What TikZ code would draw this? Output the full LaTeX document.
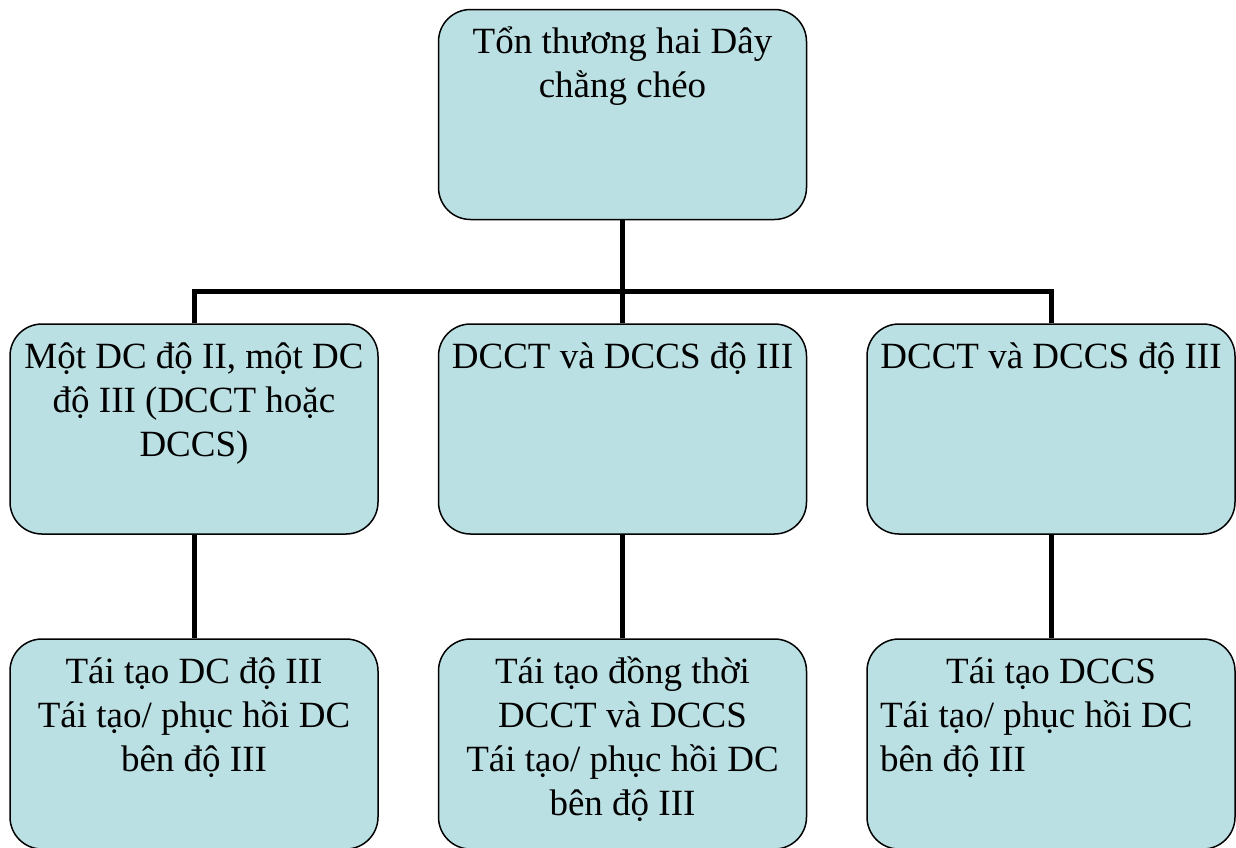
\documentclass[tikz,border=0pt]{standalone}
\usepackage{fontspec}
\setmainfont{Liberation Serif}
\definecolor{boxfill}{HTML}{BBE0E3}
\tikzset{
  box/.style={draw=black, line width=1.5pt, fill=boxfill, rounded corners=32pt,
    inner xsep=4pt, inner ysep=0pt, minimum width=368pt, minimum height=210pt},
  conn/.style={draw=black, line width=5pt}
}
\newcommand{\boxtext}[1]{\parbox[c][210pt][t]{360pt}{\fontsize{37}{44}\selectfont\centering\rule{0pt}{44pt}#1}}
\begin{document}
\begin{tikzpicture}[x=1pt,y=-1pt]
\useasboundingbox (0,0) rectangle (1236,847);
\clip (0,0) rectangle (1236,847);
\node[box] (t) at (622.5,114.5) {\boxtext{Tổn thương hai Dây\\chằng chéo}};
\node[box] (m1) at (194,429) {\boxtext{Một DC độ II, một DC\\độ III (DCCT hoặc\\DCCS)}};
\node[box] (m2) at (622.5,429) {\boxtext{DCCT và DCCS độ III}};
\node[box] (m3) at (1051,429) {\boxtext{DCCT và DCCS độ III}};
\node[box] (b1) at (194,744) {\boxtext{Tái tạo DC độ III\\Tái tạo/ phục hồi DC\\bên độ III}};
\node[box] (b2) at (622.5,744) {\boxtext{Tái tạo đồng thời\\DCCT và DCCS\\Tái tạo/ phục hồi DC\\bên độ III}};
\node[box] (b3) at (1051,744) {\boxtext{Tái tạo DCCS\par\raggedright\leftskip=9pt Tái tạo/ phục hồi DC\\bên độ III}};
\draw[conn] (t.south) -- (m2.north);
\draw[conn] (m1.north) -- ++(0,-32) -| (m3.north);
\draw[conn] (m1.south) -- (b1.north);
\draw[conn] (m2.south) -- (b2.north);
\draw[conn] (m3.south) -- (b3.north);
\end{tikzpicture}
\end{document}
